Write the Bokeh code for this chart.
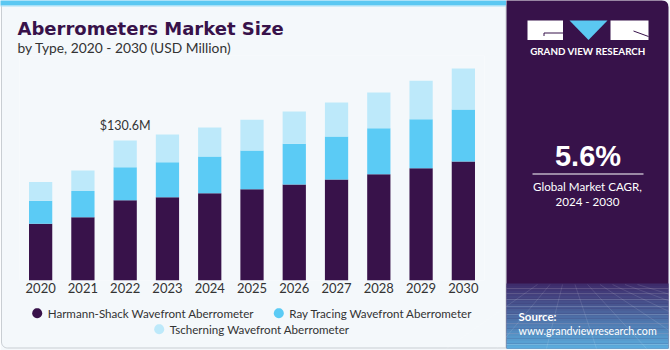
import math
from bokeh.plotting import figure
from bokeh.models import ColumnDataSource, Range1d, FixedTicker
from bokeh.core.properties import value
from bokeh.embed import file_html
from bokeh.resources import INLINE

# ---------------- data ----------------
years = [2020, 2021, 2022, 2023, 2024, 2025, 2026, 2027, 2028, 2029, 2030]
harmann_shack = [52.9, 59.1, 74.9, 77.7, 81.4, 85.2, 89.6, 94.2, 99.2, 104.8, 111.0]
ray_tracing = [21.5, 24.3, 30.8, 32.7, 34.2, 36.1, 38.0, 40.1, 42.9, 45.7, 48.5]
tscherning = [17.4, 19.3, 24.9, 25.8, 27.1, 28.6, 30.1, 31.7, 33.3, 35.8, 38.2]
series_labels = ["Harmann-Shack Wavefront Aberrometer",
                 "Ray Tracing Wavefront Aberrometer",
                 "Tscherning Wavefront Aberrometer"]
annot_year = 2022
annot_text = "$130.6M"
title_text = "Aberrometers Market Size"
subtitle_text = "by Type, 2020 - 2030 (USD Million)"
cagr_text = "5.6%"
cagr_label = ["Global Market CAGR,", "2024 - 2030"]
source_label = ["Source:", "www.grandviewresearch.com"]

# ---------------- style ----------------
W, H = 670, 350
L, R, T, B = 19, 484, 55, 280
BG = "#F4F8FB"
DARK = "#38124A"
BLUE = "#5BCBF5"
LIGHT = "#BDE9FA"
TXT = "#333333"
FONT = "Lato"
colors = [DARK, BLUE, LIGHT]

p = figure(width=W, height=H, x_range=Range1d(years[0] - 0.5, years[-1] + 0.5),
           y_range=Range1d(0, (B - T) * 130.6 / 140.0),
           min_border_left=L, min_border_right=W - R, min_border_top=T, min_border_bottom=H - B,
           y_axis_location=None, toolbar_location=None, output_backend="svg", title=None)
p.background_fill_color = BG
p.border_fill_color = BG
p.outline_line_color = None
p.xgrid.visible = False
p.ygrid.visible = False

# pixel-coordinate helper ranges (data == canvas pixels, y downward)
p.extra_x_ranges = {"px": Range1d(L, R)}
p.extra_y_ranges = {"py": Range1d(B, T)}
PX = dict(x_range_name="px", y_range_name="py")


def deco(r, level="annotation"):
    r.level = level
    return r


def label(x, y, texts, size, color, align="left", bold=False, font=FONT):
    r = p.text(x=x, y=y, text=texts, text_font=value(font), text_font_size=size,
               text_font_style="bold" if bold else "normal", text_color=color,
               text_align=align, text_baseline="middle", **PX)
    return deco(r, "overlay")


def arc_pts(cx, cy, r, a0, a1, n=8):
    return ([cx + r * math.cos(math.radians(a0 + (a1 - a0) * k / n)) for k in range(n + 1)],
            [cy + r * math.sin(math.radians(a0 + (a1 - a0) * k / n)) for k in range(n + 1)])


# ---------------- decorations ----------------
# page border with rounded bottom-left corner
ax_, ay_ = arc_pts(7, 341.5, 6, 180, 90)
deco(p.line(x=[1] + ax_ + [505.5, 505.5], y=[4] + ay_ + [347.5, 4], line_color="#C9CED3",
            line_width=1, **PX))
# top stripe
deco(p.quad(left=[0], right=[505.5], top=[0], bottom=[5], fill_color="#5BC8F2", line_color=None, **PX))
deco(p.quad(left=[0], right=[505.5], top=[5], bottom=[6], fill_color="#A8E0F7", line_color=None, **PX))
# purple panel
deco(p.quad(left=[506], right=[668], top=[0], bottom=[348], fill_color="#37124A", line_color=None, **PX))
# gradient at bottom of panel
n = 26
g_top, g_bot = 283.0, 348.0
c0, c1 = (0x3E, 0x2C, 0x6B), (0x5B, 0xAB, 0xDC)
gl, gr, gt, gb, gc = [], [], [], [], []
for i in range(n):
    f = i / (n - 1)
    col = tuple(int(round(c0[k] + (c1[k] - c0[k]) * f)) for k in range(3))
    gl.append(506); gr.append(668)
    gt.append(g_top + (g_bot - g_top) * i / n)
    gb.append(g_top + (g_bot - g_top) * (i + 1) / n + 0.3)
    gc.append("#%02x%02x%02x" % col)
deco(p.quad(left=gl, right=gr, top=gt, bottom=gb, fill_color=gc, line_color=None, **PX))
# perspective grid (thin quads / single lines)
hy = [288, 293, 299, 306, 314, 323, 333, 344]
deco(p.quad(left=[506] * len(hy), right=[668] * len(hy), top=[y - 0.4 for y in hy],
            bottom=[y + 0.4 for y in hy], fill_color="white", fill_alpha=0.16, line_color=None, **PX))
vx = [-60, -10, 40, 90, 140, 190, 240, 290, 340]
for v in vx:
    deco(p.line(x=[587 + (v - 140) * 0.25, 506 + v], y=[284, 348], line_color="white",
                line_alpha=0.14, line_width=0.8, **PX))
# rounded top-right corner of the panel
cx_, cy_ = arc_pts(662, 6, 6, 270, 360)
deco(p.patch(x=[668.5, 668.5] + cx_[::-1] + [662], y=[-0.5, 6] + cy_[::-1] + [-0.5],
             fill_color=BG, line_color=None, **PX))

# logo
deco(p.quad(left=[527, 610], right=[562.5, 648], top=[20, 20], bottom=[39.5, 39.5],
            fill_color="white", line_color=None, **PX))
deco(p.patch(x=[569, 607, 588], y=[20, 20, 39.5], fill_color="#5BC8F2", line_color=None, **PX))
deco(p.line(x=[562.5, 543.5, 543.5], y=[32.5, 32.5, 35.5], line_color="#37124A", line_width=1, **PX))
deco(p.line(x=[633, 648], y=[30.5, 36], line_color="#37124A", line_width=1, **PX))
label([587.5], [50.7], ["GRAND VIEW RESEARCH"], "9.8px", "white", "center", bold=True)

# panel texts
label([587.5], [155], [cagr_text], "29px", "white", "center", bold=True, font="Liberation Sans")
deco(p.quad(left=[532], right=[643], top=[173], bottom=[174], fill_color="white", line_color=None, **PX))
label([587, 587], [185.5, 200.7], cagr_label, "11.6px", "white", "center")
label([518], [316], [source_label[0]], "11.5px", "white", "left", bold=True)
label([518], [329.5], [source_label[1]], "10.7px", "white", "left")

# titles
label([17], [27.8], [title_text], "18px", DARK, "left", bold=True, font="DejaVu Sans")
label([17], [46.5], [subtitle_text], "13.8px", TXT, "left")

# legend
lx = [36.7, 278.3, 158.7]
ly = [312.7, 312.7, 328.7]
for cx, cy, col in zip(lx, ly, colors):
    xs_, ys_ = arc_pts(cx, cy, 5, 0, 360, 24)
    deco(p.patch(x=xs_, y=ys_, fill_color=col, line_color=None, **PX))
label([v + 10.5 for v in lx], ly, series_labels, "11.6px", TXT, "left")

# ---------------- bars ----------------
src = ColumnDataSource(dict(year=years, hs=harmann_shack, rt=ray_tracing, ts=tscherning))
p.vbar_stack(["hs", "rt", "ts"], x="year", width=0.55, color=colors, line_color=None, source=src)

i_a = years.index(annot_year)
tot = harmann_shack[i_a] + ray_tracing[i_a] + tscherning[i_a]
p.text(x=[annot_year], y=[tot], text=[annot_text], y_offset=-15.5, text_font=value(FONT),
       text_font_size="12.5px", text_color=TXT, text_align="center", text_baseline="middle")

# axis
ax = p.xaxis[0]
ax.ticker = FixedTicker(ticks=years)
ax.axis_line_color = None
ax.major_tick_line_color = None
ax.minor_tick_line_color = None
ax.major_tick_out = 0
ax.major_tick_in = 0
ax.major_label_standoff = 2
ax.major_label_text_font = FONT
ax.major_label_text_font_size = "13px"
ax.major_label_text_color = TXT

open("out.html", "w").write(file_html(p, INLINE))
